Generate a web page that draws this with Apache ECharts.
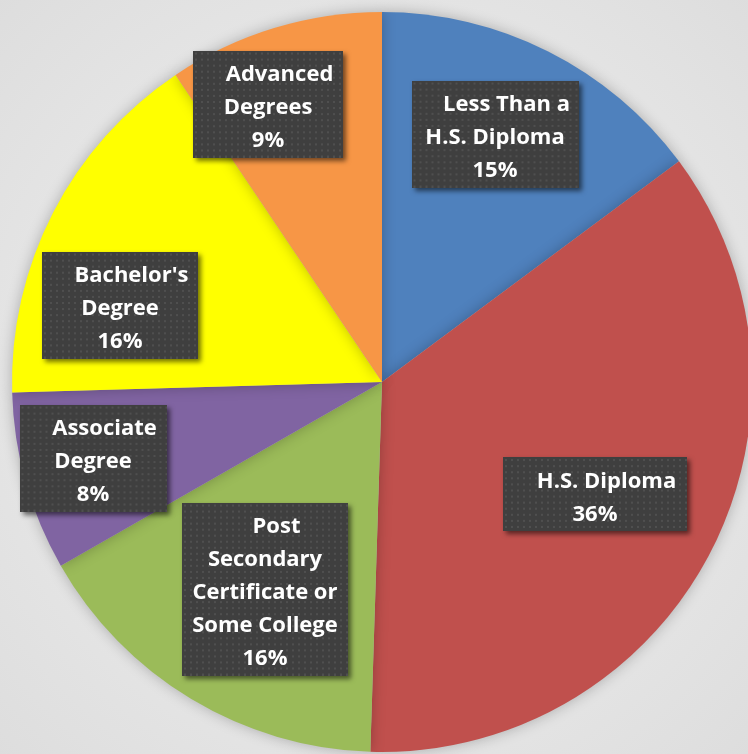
<!DOCTYPE html>
<html>
<head>
<meta charset="utf-8">
<script src="https://cdn.jsdelivr.net/npm/echarts@6/dist/echarts.min.js"></script>
<style>
html, body { margin: 0; padding: 0; background: #e8e8e8; }
#main { width: 748px; height: 754px; }
</style>
</head>
<body>
<div id="main"></div>
<script>
var categories = ['Less Than a\nH.S. Diploma', 'H.S. Diploma', 'Post\nSecondary\nCertificate or\nSome College', 'Associate\nDegree', "Bachelor's\nDegree", 'Advanced\nDegrees'];
var shares = [14.8, 35.6, 16.2, 7.8, 16.0, 9.4];
var colors = ['#4F81BD', '#C0504D', '#9BBB59', '#8064A2', '#FFFF00', '#F79646'];

// where the dark label boxes sit (centre) and how wide they are
var boxCenters = [[495, 134], [595, 494], [265, 589], [93, 458], [120, 305], [268, 104]];
var boxWidths = [167, 184, 166, 147, 156, 150];
var LINE_H = 33;

// dark box with the little dot texture
function dottedBox(w, h) {
	var c = document.createElement('canvas');
	c.width = w;
	c.height = h;
	var ctx = c.getContext('2d');
	ctx.fillStyle = '#3f3f3f';
	ctx.fillRect(0, 0, w, h);
	ctx.fillStyle = '#4f4f4f';
	for (var y = 2; y < h; y += 6) {
		for (var x = 2; x < w; x += 6) {
			ctx.fillRect(x, y, 2, 2);
		}
	}
	return c;
}

var font = { fontFamily: 'Open Sans', fontWeight: 'bold', fontSize: 22, color: '#ffffff', lineHeight: LINE_H };

var chart = echarts.init(document.getElementById('main'), null, { renderer: 'canvas' });

var data = categories.map(function (name, i) {
	var lines = name.split('\n').length + 1;
	var h = lines * LINE_H + 7;
	return {
		name: name,
		value: shares[i],
		itemStyle: { color: colors[i] },
		label: {
			width: boxWidths[i],
			backgroundColor: { image: dottedBox(boxWidths[i], h) }
		}
	};
});

var option = {
	backgroundColor: {
		type: 'radial', x: 0.5, y: 0.5, r: 0.75,
		colorStops: [{ offset: 0, color: '#f3f3f3' }, { offset: 1, color: '#dcdcdc' }]
	},
	animation: false,
	series: [{
		type: 'pie',
		center: [382, 382],
		radius: 370,
		startAngle: 90,
		clockwise: true,
		silent: true,
		itemStyle: {
			shadowBlur: 14,
			shadowColor: 'rgba(0,0,0,0.25)'
		},
		label: {
			show: true,
			position: 'inside',
			padding: [8, 0, 0, 0],
			align: 'center',
			shadowColor: 'rgba(0,0,0,0.55)',
			shadowBlur: 5,
			shadowOffsetX: 3,
			shadowOffsetY: 3,
			formatter: function (p) {
				var parts = p.name.split('\n');
				var out = '{a|' + parts[0] + '}';
				for (var k = 1; k < parts.length; k++) out += '\n{b|' + parts[k] + '}';
				out += '\n{b|' + Math.round(p.value) + '%}';
				return out;
			},
			rich: {
				a: Object.assign({ padding: [0, 0, 0, 23] }, font),
				b: Object.assign({}, font)
			}
		},
		labelLine: { show: false },
		labelLayout: function (p) {
			var c = boxCenters[p.dataIndex];
			return { x: c[0], y: c[1] };
		},
		data: data
	}]
};

chart.setOption(option);
</script>
</body>
</html>
